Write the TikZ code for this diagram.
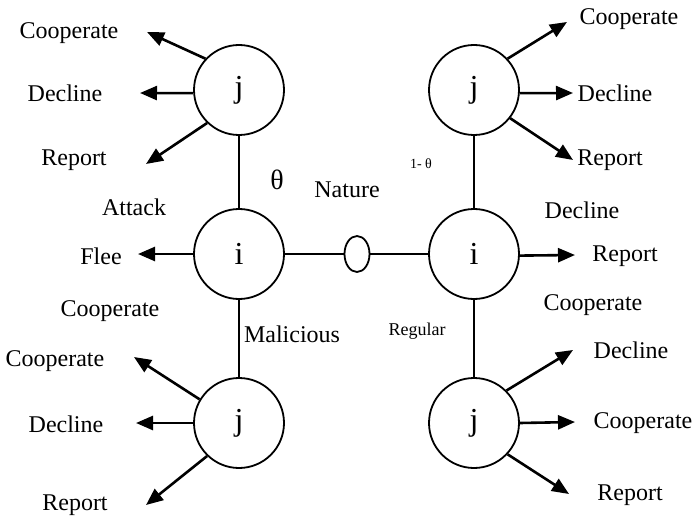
\documentclass[tikz,border=0pt]{standalone}
\usepackage{fontspec}
\setmainfont{Liberation Serif}
\usetikzlibrary{arrows.meta, shapes.geometric}

\begin{document}
\begin{tikzpicture}[x=0.5pt, y=-0.5pt]
        \tikzset{
            player/.style={draw, shape = circle, line width=0.9pt, minimum size=45pt, inner sep=0pt, font=\fontsize{16}{18}\selectfont},
            chance/.style={draw, shape = ellipse, line width=0.9pt, minimum width=12.5pt, minimum height=18pt, inner sep=0pt},
            act/.style={font=\fontsize{12}{14}\selectfont},
            tiny/.style={font=\fontsize{9}{10}\selectfont},
            move/.style={-{Triangle[length=8.5pt, width=7pt]}, line width=1.3pt},
            branch/.style={line width=0.8pt}
        }
        \useasboundingbox (0,0) rectangle (695,518);
        % players and nature
        \node[player] (A) at (239,90) {j};
        \node[player] (B) at (239,254) {i};
        \node[player] (C) at (239,423) {j};
        \node[player] (D) at (474,90) {j};
        \node[player] (E) at (474,254) {i};
        \node[player] (F) at (474,423) {j};
        \node[chance] (N) at (357,254) {};
        \path (A) edge[branch] (B);
        \path (B) edge[branch] (C);
        \path (D) edge[branch] (E);
        \path (E) edge[branch] (F);
        \path (B.east) edge[branch] (N.west);
        \path (N.east) edge[branch] (E.west);
        % arrow ends
        \coordinate (a1) at (147,32);
        \coordinate (a2) at (140,93);
        \coordinate (a3) at (146,164);
        \coordinate (b1) at (138,254);
        \coordinate (c1) at (134,357);
        \coordinate (c2) at (136,423);
        \coordinate (c3) at (146,505);
        \coordinate (d1) at (567,22);
        \coordinate (d2) at (573,93);
        \coordinate (d3) at (573,160);
        \coordinate (e1) at (575,255);
        \coordinate (f1) at (573,350);
        \coordinate (f2) at (575,422);
        \coordinate (f3) at (569,494);
        \path (A.137) edge[move] (a1);
        \path (A.184) edge[move] (a2);
        \path (A.226) edge[move] (a3);
        \path (B.west) edge[move] (b1);
        \path (C.149) edge[move] (c1);
        \path (C.west) edge[move] (c2);
        \path (C.226) edge[move] (c3);
        \path (D.43) edge[move] (d1);
        \path (D.356) edge[move] (d2);
        \path (D.322) edge[move] (d3);
        \path (E.358) edge[move] (e1);
        \path (F.45) edge[move] (f1);
        \path (F.east) edge[move] (f2);
        \path (F.317) edge[move] (f3);
        % labels
        \node[act] (lA1) at (69,33) {Cooperate};
        \node[act] (lA2) at (65,93) {Decline};
        \node[act] (lA3) at (74,160) {Report};
        \node[act] (lB0) at (134,207) {Attack};
        \node[act] (lB1) at (101,256) {Flee};
        \node[act] (lB2) at (110,311) {Cooperate};
        \node[act] (lC1) at (55,361) {Cooperate};
        \node[act] (lC2) at (66,424) {Decline};
        \node[act] (lC3) at (75,505) {Report};
        \node[act] (lBC) at (292,334) {Malicious};
        \node[font=\fontsize{14}{16}\selectfont] (th) at (277,180) {θ};
        \node[act] (nat) at (347,190) {Nature};
        \node[font=\fontsize{7}{8}\selectfont] (th1) at (421,164) {1- θ};
        \node[tiny] (lEF) at (417,331) {Regular};
        \node[act] (lD1) at (629,19) {Cooperate};
        \node[act] (lD2) at (615,93) {Decline};
        \node[act] (lD3) at (610,160) {Report};
        \node[act] (lE0) at (582,210) {Decline};
        \node[act] (lE1) at (625,256) {Report};
        \node[act] (lE2) at (593,305) {Cooperate};
        \node[act] (lF1) at (631,350) {Decline};
        \node[act] (lF2) at (643,423) {Cooperate};
        \node[act] (lF3) at (630,495) {Report};
    \end{tikzpicture}
\end{document}
